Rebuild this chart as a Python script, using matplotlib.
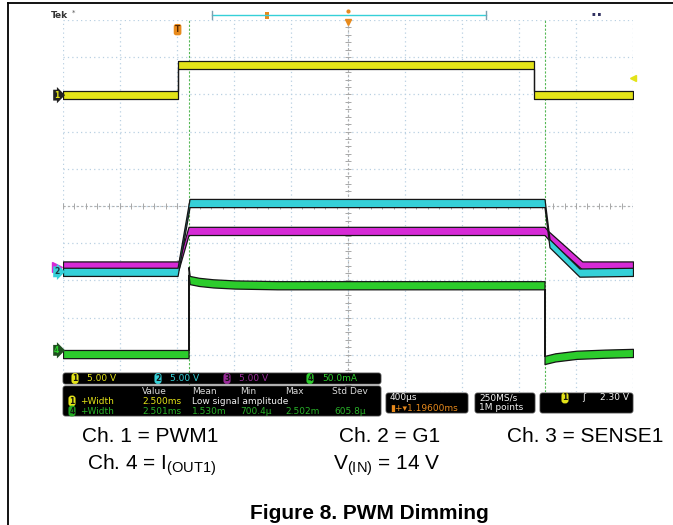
import numpy as np
import matplotlib.pyplot as plt
import matplotlib.transforms as mtransforms
from matplotlib.patches import FancyBboxPatch

plt.rcParams['font.family'] = ['DejaVu Sans']
plt.rcParams['mathtext.fontset'] = 'custom'
plt.rcParams['mathtext.rm'] = 'Liberation Sans'
plt.rcParams['mathtext.it'] = 'Liberation Sans:italic'
plt.rcParams['mathtext.bf'] = 'Liberation Sans:bold'

# scope settings: 400 us/div, screen centre 1.196 ms after trigger
time_per_div = 0.4
h_delay = 1.196
n_hdiv = 10
n_vdiv = 10
volts_per_div_ch1 = 5.0
ch1_pos = 2.98
trig_level = 2.30

# traces: time in ms, level in divisions from screen centre
ch1_t = [-0.804, 0.0, 0.0, 2.5, 2.5, 3.196]
ch1_y = [2.98, 2.98, 3.79, 3.79, 2.98, 2.98]
ch2_t = [-0.804, 0.0, 0.084, 2.575, 2.61, 2.82, 3.196]
ch2_y = [-1.77, -1.77, 0.08, 0.08, -1.0, -1.79, -1.77]
ch3_t = [-0.804, 0.007, 0.077, 2.575, 2.60, 2.84, 3.196]
ch3_y = [-1.60, -1.60, -0.67, -0.67, -0.78, -1.60, -1.60]
ch4_t = [-0.804, 0.077, 0.077, 0.085, 0.15, 0.25, 0.4, 0.7,
         2.575, 2.575, 2.65, 2.8, 3.0, 3.196]
ch4_y = [-3.98, -3.98, -1.75, -1.99, -2.04, -2.08, -2.11, -2.13,
         -2.13, -4.14, -4.07, -4.0, -3.97, -3.95]
cursor_a = 0.077
cursor_b = 2.575

# readout texts
ch_scales = ['5.00 V', '5.00 V', '5.00 V', '50.0mA']
meas_head = ['Value', 'Mean', 'Min', 'Max', 'Std Dev']
meas_ch1 = ['2.500ms', 'Low signal amplitude']
meas_ch4 = ['2.501ms', '1.530m', '700.4\u00b5', '2.502m', '605.8\u00b5']

YEL = '#e3e318'
CYA = '#35d0d8'
MAG = '#d62ad6'
GRN = '#2ccc2c'
ORG = '#e88a1c'
GRID = '#b9d0e2'

W, H = 673, 525
fig = plt.figure(figsize=(W / 100, H / 100), dpi=100)

# scope graticule area in pixels
L, R, T, B = 63, 633, 20, 392
ax = fig.add_axes([L / W, 1 - B / H, (R - L) / W, (B - T) / H])
t0 = h_delay - n_hdiv / 2 * time_per_div
t1 = h_delay + n_hdiv / 2 * time_per_div
ax.set_xlim(t0, t1)
ax.set_ylim(-n_vdiv / 2, n_vdiv / 2)
ax.axis('off')

for k in range(n_hdiv + 1):
    x = t0 + k * time_per_div
    ax.axvline(x, color=GRID, lw=0.9, ls=(0, (1, 2.5)), zorder=0)
for k in range(n_vdiv + 1):
    ax.axhline(-n_vdiv / 2 + k, color=GRID, lw=0.9, ls=(0, (1, 2.5)), zorder=0)
# centre cross with minor ticks
ax.axvline(h_delay, color='#b0b0b0', lw=0.8, ls=(0, (2, 2)), zorder=0)
ax.axhline(0, color='#b0b0b0', lw=0.8, ls=(0, (2, 2)), zorder=0)
xt = t0 + np.arange(n_hdiv * 5 + 1) * time_per_div / 5
ax.vlines(xt, -0.08, 0.08, color='#a8a8a8', lw=0.7, zorder=0)
yt = -n_vdiv / 2 + np.arange(n_vdiv * 5 + 1) / 5
ax.hlines(yt, h_delay - 0.021, h_delay + 0.021, color='#a8a8a8', lw=0.7, zorder=0)

# cursors
for c in (cursor_a, cursor_b):
    ax.axvline(c, color='#55b855', lw=0.8, ls=(0, (2, 1.5)), zorder=1)

band = 0.11


def trace(t, y, color, z):
    y = np.asarray(y)
    ax.fill_between(t, y - band, y + band, facecolor=color,
                    edgecolor='#161616', lw=0.9, zorder=z)


trace(ch1_t, ch1_y, YEL, 3)
trace(ch4_t, ch4_y, GRN, 3)
trace(ch3_t, ch3_y, MAG, 4)
trace(ch2_t, ch2_y, CYA, 5)

# channel position flags on the left (ch3 flag sits mostly behind ch2)
blend = mtransforms.blended_transform_factory(ax.transAxes, ax.transData)
ax.plot([-0.011], [ch2_y[0] + 0.12], marker='>', ms=7, color=MAG,
        transform=blend, clip_on=False, zorder=1)
flags = [('2', ch2_y[0], CYA, '#1a3a40'),
         ('1', ch1_y[0], '#222222', YEL),
         ('4', ch4_y[0] + 0.1, '#1f4f1f', GRN)]
for lab, yy, fc, tc in flags:
    ax.text(-0.011, yy, lab, transform=blend, ha='center', va='center',
            fontsize=5.5, fontweight='bold', color=tc, clip_on=False, zorder=6,
            bbox=dict(boxstyle='rarrow,pad=0.12', fc=fc, ec='none'))

# trigger marker and trigger level marker
blend_x = mtransforms.blended_transform_factory(ax.transData, ax.transAxes)
ax.text(0.0, 0.974, 'T', transform=blend_x, ha='center', va='center',
        fontsize=5.5, fontweight='bold', color='#5a2a00',
        bbox=dict(boxstyle='round,pad=0.15,rounding_size=0.3', fc=ORG, ec='none'))
ax.plot([t1], [ch1_pos + trig_level / volts_per_div_ch1], marker='<',
        ms=4, color=YEL, clip_on=False, zorder=6)

# overlay canvas in pixel coordinates for borders, status bar and readouts
cv = fig.add_axes([0, 0, 1, 1], zorder=3)
cv.set_xlim(0, W)
cv.set_ylim(H, 0)
cv.axis('off')
cv.patch.set_alpha(0)

cv.plot([8, W], [3, 3], color='black', lw=1.3)
cv.plot([8, 8], [3, H], color='black', lw=1.3)

cv.text(51, 15, 'Tek', fontsize=6.5, fontweight='bold', color='#333333', va='center')
cv.text(72, 13, '*', fontsize=5, color='#555555', va='center')
cv.plot([212, 486], [15, 15], color=CYA, lw=1)
cv.plot([212, 212], [11, 19], color='#7aa0b0', lw=1)
cv.plot([486, 486], [11, 19], color='#7aa0b0', lw=1)
cv.add_patch(FancyBboxPatch((264.5, 12), 4, 7, boxstyle='square,pad=0', fc=ORG, ec='none'))
cv.plot([348], [11], marker='o', ms=2, color=ORG)
cv.plot([348], [22], marker='v', ms=4, color=ORG)
cv.text(597, 15, '\u25aa \u25aa', fontsize=4, color='#303060', ha='center', va='center')


def panel(x0, y0, x1, y1):
    cv.add_patch(FancyBboxPatch((x0, y0), x1 - x0, y1 - y0,
                                boxstyle='round,pad=0,rounding_size=2.5',
                                fc='black', ec='#444444', lw=0.6))


def badge(x, y, lab, fc, tc='#111111'):
    cv.text(x, y, lab, ha='center', va='center', fontsize=5.5, fontweight='bold',
            color=tc, bbox=dict(boxstyle='round,pad=0.12,rounding_size=0.4', fc=fc, ec='none'))


fs = 6.5
panel(63, 373, 381, 384)
bar_cols = [YEL, CYA, '#9a2c9a', GRN]
bar_x = [75, 158, 227, 310]
for i in range(4):
    badge(bar_x[i], 378.5, str(i + 1), bar_cols[i])
    cv.text(bar_x[i] + 12, 378.5, ch_scales[i], color=bar_cols[i], fontsize=fs, va='center')

panel(63, 386, 381, 416)
col_x = [142, 192, 240, 285, 332]
for x, s in zip(col_x, meas_head):
    cv.text(x, 391, s, color='#d8d8d8', fontsize=fs, va='center')
badge(72, 401, '1', YEL)
cv.text(80, 401, '+Width', color=YEL, fontsize=fs, va='center')
cv.text(col_x[0], 401, meas_ch1[0], color=YEL, fontsize=fs, va='center')
cv.text(col_x[1], 401, meas_ch1[1], color='#f0f0f0', fontsize=fs, va='center')
badge(72, 411, '4', '#23a823')
cv.text(80, 411, '+Width', color='#27b027', fontsize=fs, va='center')
for x, s in zip(col_x, meas_ch4):
    cv.text(x + (2 if s == meas_ch4[-1] else 0), 411, s, color='#27b027', fontsize=fs, va='center')

panel(386, 393, 468, 413)
cv.text(390, 398, '400\u00b5s', color='#f0f0f0', fontsize=fs, va='center')
cv.text(390, 408, '\u25ae+\u25be1.19600ms', color=ORG, fontsize=fs, va='center')
panel(475, 393, 535, 413)
cv.text(479, 398, '250MS/s', color='#f0f0f0', fontsize=fs, va='center')
cv.text(479, 408, '1M points', color='#f0f0f0', fontsize=fs, va='center')
panel(540, 393, 633, 413)
badge(565, 398, '1', YEL)
cv.text(582, 398, '\u0283', color='#f0f0f0', fontsize=fs, va='center')
cv.text(629, 398, '%.2f V' % trig_level, color='#f0f0f0', fontsize=fs, va='center', ha='right')

# caption
cap = dict(fontsize=15, family='Liberation Sans', color='black', va='baseline')
cv.text(82, 441.5, 'Ch. 1 = PWM1', **cap)
cv.text(339, 441.5, 'Ch. 2 = G1', **cap)
cv.text(507, 441.5, 'Ch. 3 = SENSE1', **cap)
cv.text(87, 470, r'Ch. 4 = I$_{\mathrm{(OUT1)}}$', **cap)
cv.text(333, 470, r'V$_{\mathrm{(IN)}}$ = 14 V', **cap)
cv.text(250, 519, 'Figure 8. PWM Dimming', fontweight='bold', **cap)

fig.savefig('out.png', dpi=100)
